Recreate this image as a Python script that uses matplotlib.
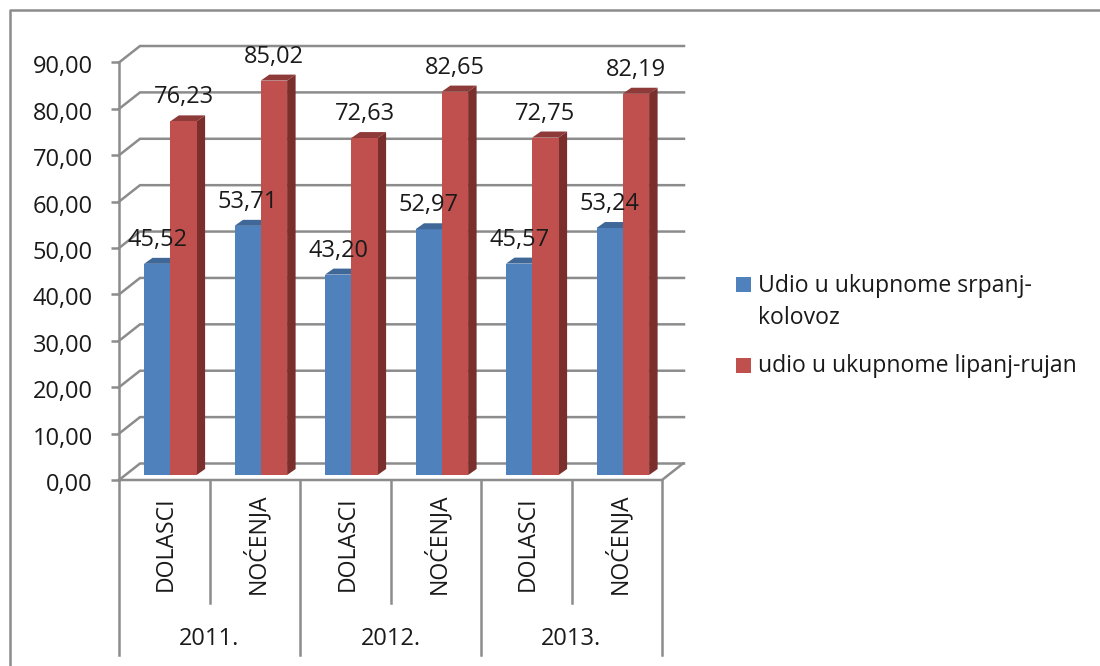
"""3D-look bar chart of tourism shares, drawn on a plain 2D axes."""

import matplotlib.patches as mpatches
import matplotlib.pyplot as plt
import matplotlib.transforms as mtransforms
import numpy as np

# ── Data ─────────────────────────────────────────────────────────────────

CATEGORIES = ["DOLASCI", "NOĆENJA", "DOLASCI", "NOĆENJA", "DOLASCI", "NOĆENJA"]
YEARS = ["2011.", "2012.", "2013."]
SERIES_NAMES = ["Udio u ukupnome srpanj-", "kolovoz", "udio u ukupnome lipanj-rujan"]
SHARE_JUL_AUG = [45.52, 53.71, 43.20, 52.97, 45.57, 53.24]
SHARE_JUN_SEP = [76.23, 85.02, 72.63, 82.65, 72.75, 82.19]
Y_TICKS = [0, 10, 20, 30, 40, 50, 60, 70, 80, 90]

# ── Visual settings ──────────────────────────────────────────────────────

GRID_COLOR = "#8c8c8c"
TEXT_COLOR = "#1a1a1a"
BLUE = "#4f81bd"
BLUE_TOP = "#3f6797"
RED = "#c0504d"
RED_SIDE = "#7a2f2d"
RED_TOP = "#8e3a38"
LINE_W = 1.8
FONT = "Open Sans"
FONT_SIZE = 17
LEGEND_SIZE = 16.6

# axes box in pixels
LEFT, RIGHT, BOTTOM, TOP = 119, 662, 480, 62.5
PX_X = (RIGHT - LEFT) / len(CATEGORIES)
PX_Y = (BOTTOM - TOP) / 90

plt.rcParams["font.family"] = [FONT, "DejaVu Sans"]


def dx(px):
    return px / PX_X


def dy(px):
    return px / PX_Y


def fig_xy(px, py):
    """Picture pixels (origin top left) to figure fractions."""
    return px / 1100, (666 - py) / 666


# ── Drawing ──────────────────────────────────────────────────────────────

fig = plt.figure(figsize=(11, 6.66), dpi=100)
ax = fig.add_axes([LEFT / 1100, (666 - BOTTOM) / 666, (RIGHT - LEFT) / 1100, (BOTTOM - TOP) / 666])
ax.set_xlim(0, len(CATEGORIES))
ax.set_ylim(0, 90)
ax.patch.set_visible(False)
for name in ["top", "right", "bottom"]:
    ax.spines[name].set_visible(False)
ax.spines["left"].set_color(GRID_COLOR)
ax.spines["left"].set_linewidth(LINE_W)

ax.set_yticks(Y_TICKS)
ax.set_yticklabels([f"{t:.2f}".replace(".", ",") for t in Y_TICKS], fontsize=FONT_SIZE, color=TEXT_COLOR)
ax.tick_params(axis="y", length=5.8, width=LINE_W, color=GRID_COLOR, pad=13)
ax.set_xticks([])
nudge = mtransforms.ScaledTranslation(0, -2 / 100, fig.dpi_scale_trans)
for lbl in ax.get_yticklabels():
    lbl.set_transform(lbl.get_transform() + nudge)

# back wall and its diagonal links
depth_x, depth_y = dx(21), dy(16.5)
wall_end = len(CATEGORIES) + dx(22)
for t in Y_TICKS:
    ax.plot([0, depth_x, wall_end], [t, t + depth_y, t + depth_y], color=GRID_COLOR, lw=LINE_W,
            clip_on=False, zorder=1, solid_joinstyle="miter")

# floor front edge
ax.plot([0, len(CATEGORIES), len(CATEGORIES) + depth_x], [0, 0, depth_y], color=GRID_COLOR, lw=LINE_W,
        clip_on=False, zorder=1)

# bars
x = np.arange(len(CATEGORIES))
bar_w = dx(26.3)
first_bar = dx(25)
base = dy(5)
cap_x, cap_y = dx(8.5), dy(6)

ax.bar(x + first_bar, SHARE_JUL_AUG, bar_w, bottom=base, align="edge", color=BLUE, zorder=3, clip_on=False)
ax.bar(x + first_bar + bar_w, SHARE_JUN_SEP, bar_w, bottom=base, align="edge", color=RED, zorder=5, clip_on=False)

for left, val in zip(x + first_bar, SHARE_JUL_AUG):
    top = val + base
    ax.add_patch(mpatches.Polygon(
        [(left, top), (left + bar_w, top), (left + bar_w + cap_x, top + cap_y), (left + cap_x, top + cap_y)],
        closed=True, facecolor=BLUE_TOP, edgecolor="none", zorder=3, clip_on=False))

for left, val in zip(x + first_bar + bar_w, SHARE_JUN_SEP):
    top = val + base
    right = left + bar_w
    ax.add_patch(mpatches.Polygon(
        [(left, top), (right, top), (right + cap_x, top + cap_y), (left + cap_x, top + cap_y)],
        closed=True, facecolor=RED_TOP, edgecolor="none", zorder=4, clip_on=False))
    ax.add_patch(mpatches.Polygon(
        [(right, base), (right + cap_x, base + cap_y), (right + cap_x, top + cap_y), (right, top)],
        closed=True, facecolor=RED_SIDE, edgecolor="none", zorder=4, clip_on=False))

# value labels
for offset, values in [(first_bar + bar_w / 2, SHARE_JUL_AUG), (first_bar + bar_w * 1.5, SHARE_JUN_SEP)]:
    for xi, val in zip(x + offset, values):
        ax.annotate(f"{val:.2f}".replace(".", ","), (xi, val + base), xytext=(0, 24 * 0.72),
                    textcoords="offset points", ha="center", va="center", fontsize=FONT_SIZE,
                    color=TEXT_COLOR, zorder=6, annotation_clip=False)

# two level category axis below the plot
for i in range(len(CATEGORIES) + 1):
    low = dy(175) if i % 2 == 0 else dy(123)
    ax.plot([i, i], [0, -low], color=GRID_COLOR, lw=LINE_W, clip_on=False, zorder=1)

for i, name in enumerate(CATEGORIES):
    ax.text(i + 0.5 + dx(2), -dy(64), name, rotation=90, ha="center", va="center", fontsize=FONT_SIZE - 0.4,
            color=TEXT_COLOR, clip_on=False)
for i, year in enumerate(YEARS):
    ax.text(2 * i + 1, -dy(159), year, ha="center", va="center", fontsize=FONT_SIZE, color=TEXT_COLOR,
            clip_on=False)

# legend: swatch sits level with the first text line of its entry
for color, (sx, sy) in [(BLUE, (736, 292)), (RED, (736, 373))]:
    fig.add_artist(mpatches.Rectangle(fig_xy(sx, sy), 15 / 1100, 15 / 666, facecolor=color, edgecolor="none",
                                      transform=fig.transFigure))
for label, ty in zip(SERIES_NAMES, [286, 318, 366]):
    px, py = fig_xy(758, ty)
    fig.text(px, py, label, ha="left", va="center", fontsize=LEGEND_SIZE, color=TEXT_COLOR)

# outer frame, cut off at the right and bottom of the picture
fig.add_artist(plt.Line2D([9.5 / 1100, 9.5 / 1100, 1], [0, (666 - 9.5) / 666, (666 - 9.5) / 666],
                          color=GRID_COLOR, lw=LINE_W, transform=fig.transFigure))

fig.savefig("out.png", dpi=100)
